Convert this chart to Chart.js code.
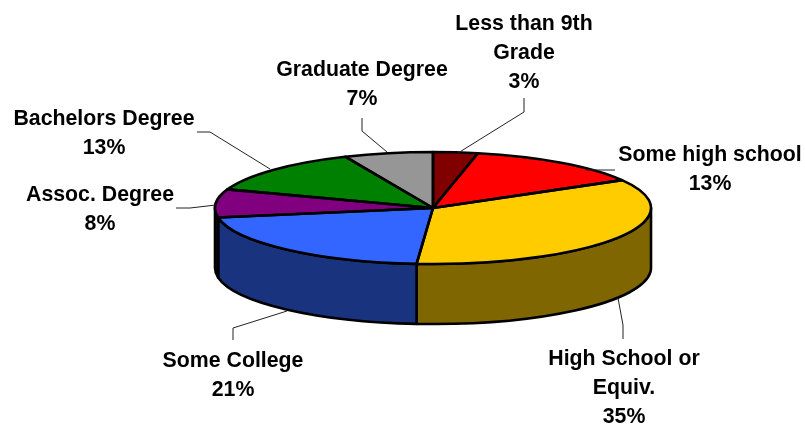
<!DOCTYPE html>
<html>
<head>
<meta charset="utf-8">
<style>
  html, body { margin: 0; padding: 0; background: #fff; }
  #wrap { width: 805px; height: 426px; }
</style>
<script src="https://cdn.jsdelivr.net/npm/chart.js@4/dist/chart.umd.min.js"></script>
</head>
<body>
<div id="wrap"><canvas id="pie"></canvas></div>
<script>
// Values, starting at 12 o'clock and going clockwise
const categories = [
    ['Less than 9th', 'Grade'],
    ['Some high school'],
    ['High School or', 'Equiv.'],
    ['Some College'],
    ['Assoc. Degree'],
    ['Bachelors Degree'],
    ['Graduate Degree']
];
const shares = [3.3, 13.4, 34.5, 21.1, 8.1, 13.0, 6.6];

const topColors = ['#800000', '#ff0000', '#ffcc00', '#3366ff', '#800080', '#008000', '#969696'];
const wallColors = ['#400000', '#800000', '#806600', '#1a337f', '#200020', '#004000', '#4b4b4b'];

// Label centres and leader lines, in page pixels
const labelCentres = [[524, 24], [710, 155], [624, 359], [233, 361], [100, 195], [104, 119], [362, 70]];
const leaders = [
    [[524, 98], [524, 112], [458, 153]],
    [[615, 170], [586, 170]],
    [[623, 339], [623, 325], [618, 298]],
    [[233, 340], [233, 328], [287, 311]],
    [[176, 208], [190, 208], [216, 205]],
    [[197, 132], [210, 132], [270, 169]],
    [[362, 118], [362, 131], [387, 152]]
];

// Tilted pie: ellipse centre, radii and wall height
const PIE_X = 433, PIE_Y = 208, RX = 218, RY = 56, DEPTH = 60;
const LINE_H = 29;
const EDGE = 2.6;

const tiltPlugin = {
    id: 'tilt',
    beforeDatasetsDraw(chart) {
        const ctx = chart.ctx;
        const arcs = chart.getDatasetMeta(0).data;

        // walls first, only the front half of the ellipse shows
        ctx.save();
        ctx.strokeStyle = '#000';
        ctx.lineWidth = EDGE;
        ctx.lineJoin = 'round';
        arcs.forEach((arc, i) => {
            const a0 = Math.max(arc.startAngle, 0);
            const a1 = Math.min(arc.endAngle, Math.PI);
            if (a1 <= a0) return;
            ctx.beginPath();
            ctx.ellipse(PIE_X, PIE_Y, RX, RY, 0, a0, a1);
            ctx.ellipse(PIE_X, PIE_Y + DEPTH, RX, RY, 0, a1, a0, true);
            ctx.closePath();
            ctx.fillStyle = wallColors[i];
            ctx.fill();
            ctx.stroke();
        });
        ctx.restore();

        // squash the library's round arcs onto the ellipse
        const first = arcs[0];
        ctx.save();
        ctx.translate(PIE_X, PIE_Y);
        ctx.scale(RX / first.outerRadius, RY / first.outerRadius);
        ctx.translate(-first.x, -first.y);
    },
    afterDatasetsDraw(chart) {
        const ctx = chart.ctx;
        ctx.restore();

        // outlines are stroked here so the squash does not thin them
        const arcs = chart.getDatasetMeta(0).data;
        ctx.save();
        ctx.strokeStyle = '#000';
        ctx.lineWidth = EDGE;
        ctx.lineJoin = 'round';
        arcs.forEach(arc => {
            ctx.beginPath();
            ctx.moveTo(PIE_X, PIE_Y);
            ctx.ellipse(PIE_X, PIE_Y, RX, RY, 0, arc.startAngle, arc.endAngle);
            ctx.closePath();
            ctx.stroke();
        });
        ctx.restore();

        // leader lines
        ctx.save();
        ctx.strokeStyle = '#222';
        ctx.lineWidth = 1;
        leaders.forEach(pts => {
            ctx.beginPath();
            pts.forEach((p, j) => j ? ctx.lineTo(p[0], p[1]) : ctx.moveTo(p[0], p[1]));
            ctx.stroke();
        });
        ctx.restore();

        // labels
        ctx.save();
        ctx.fillStyle = '#000';
        ctx.font = 'bold 21.3px "Liberation Sans", Arial, sans-serif';
        ctx.textAlign = 'center';
        ctx.textBaseline = 'middle';
        categories.forEach((lines, i) => {
            const rows = lines.concat(Math.round(shares[i]) + '%');
            rows.forEach((row, j) => {
                ctx.fillText(row, labelCentres[i][0], labelCentres[i][1] + j * LINE_H);
            });
        });
        ctx.restore();
    }
};

new Chart(document.getElementById('pie').getContext('2d'), {
    type: 'pie',
    data: {
        labels: categories.map(c => c.join(' ')),
        datasets: [{
            data: shares,
            backgroundColor: topColors,
            borderWidth: 0
        }]
    },
    options: {
        responsive: true,
        maintainAspectRatio: false,
        animation: false,
        plugins: {
            legend: { display: false },
            tooltip: { enabled: false }
        }
    },
    plugins: [tiltPlugin]
});
</script>
</body>
</html>
